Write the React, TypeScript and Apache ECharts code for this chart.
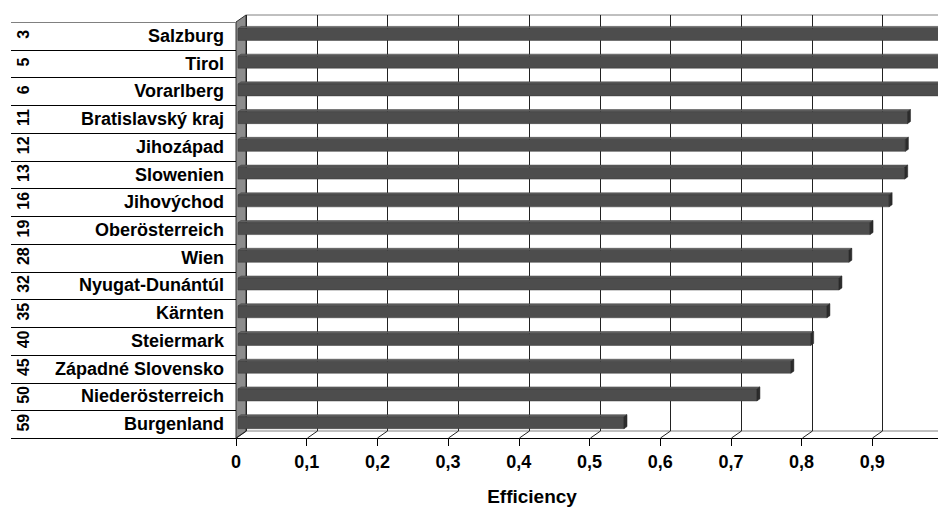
import React, { useEffect, useRef } from "react";
import * as echarts from "echarts";

const categories = [
  "Salzburg",
  "Tirol",
  "Vorarlberg",
  "Bratislavský kraj",
  "Jihozápad",
  "Slowenien",
  "Jihovýchod",
  "Oberösterreich",
  "Wien",
  "Nyugat-Dunántúl",
  "Kärnten",
  "Steiermark",
  "Západné Slovensko",
  "Niederösterreich",
  "Burgenland",
];
const ranks = [3, 5, 6, 11, 12, 13, 16, 19, 28, 32, 35, 40, 45, 50, 59];
const efficiency = [
  1, 1, 1, 0.947, 0.944, 0.943, 0.921, 0.894, 0.864, 0.85, 0.833, 0.81, 0.782,
  0.734, 0.546,
];
const tickValues = [0, 0.1, 0.2, 0.3, 0.4, 0.5, 0.6, 0.7, 0.8, 0.9, 1];
const axisTitle = "Efficiency";

const DX = 10;
const DY = -7;
const FONT = "'Liberation Sans', Arial, sans-serif";

export default function App() {
  const ref = useRef<HTMLDivElement>(null);
  useEffect(() => {
    if (!ref.current) return;
    const chart = echarts.init(ref.current, undefined, { renderer: "svg" });
    const n = categories.length;

    const option: any = {
      animation: false,
      backgroundColor: "#ffffff",
      textStyle: { fontFamily: FONT },
      grid: {
        left: 236,
        right: -5,
        top: 22,
        bottom: 69,
        containLabel: false,
        outerBoundsMode: "none",
      },
      xAxis: {
        type: "value",
        min: 0,
        max: 1,
        interval: 0.1,
        axisLine: { show: true, lineStyle: { color: "#000", width: 1 } },
        axisTick: { show: true, length: 8, lineStyle: { color: "#000", width: 1 } },
        splitLine: { show: false },
        axisLabel: {
          margin: 15,
          color: "#000",
          fontWeight: "bold",
          fontSize: 18,
          fontFamily: FONT,
          hideOverlap: false,
          showMaxLabel: true,
          formatter: (v: number) => String(Math.round(v * 10) / 10).replace(".", ","),
        },
      },
      yAxis: {
        type: "category",
        data: categories,
        inverse: true,
        axisLine: { show: false },
        axisTick: { show: false },
        splitLine: { show: false },
        axisLabel: {
          margin: 12,
          color: "#000",
          fontWeight: "bold",
          fontSize: 18,
          fontFamily: FONT,
          padding: [4, 0, 0, 0],
        },
      },
      graphic: [
        {
          type: "text",
          x: 532,
          y: 496,
          style: {
            text: axisTitle,
            fontSize: 19,
            fontWeight: "bold",
            fontFamily: FONT,
            fill: "#000",
            align: "center",
            verticalAlign: "middle",
          },
        },
      ],
      series: [
        {
          type: "custom",
          name: "frame",
          silent: true,
          z: 1,
          data: [[0, 0]],
          renderItem: (params: any, api: any) => {
            const cs = params.coordSys;
            const x0 = cs.x;
            const y0 = cs.y;
            const w = cs.width;
            const h = cs.height;
            const children: any[] = [];
            children.push({
              type: "polygon",
              shape: {
                points: [
                  [x0, y0],
                  [x0 + DX, y0 + DY],
                  [x0 + DX, y0 + h + DY],
                  [x0, y0 + h],
                ],
              },
              style: { fill: "#8c8c8c", stroke: "#333", lineWidth: 1 },
            });
            children.push({
              type: "line",
              shape: { x1: x0 + DX, y1: y0 + DY, x2: x0 + w + DX, y2: y0 + DY },
              style: { stroke: "#808080", lineWidth: 1 },
            });
            children.push({
              type: "line",
              shape: { x1: x0 + DX, y1: y0 + h + DY, x2: x0 + w + DX, y2: y0 + h + DY },
              style: { stroke: "#808080", lineWidth: 1 },
            });
            for (let i = 0; i <= n; i++) {
              const yy = Math.round(y0 + (i * h) / n) + 0.5;
              children.push({
                type: "line",
                shape: { x1: 11, y1: yy, x2: x0, y2: yy },
                style: { stroke: i === 0 ? "#808080" : "#000", lineWidth: 1.2 },
              });
            }
            return { type: "group", children };
          },
        },
        {
          type: "custom",
          name: "grid",
          silent: true,
          z: 2,
          data: tickValues.map((v) => [v, 0]),
          renderItem: (params: any, api: any) => {
            const cs = params.coordSys;
            const x = Math.round(api.coord([api.value(0), 0])[0]) + 0.5;
            const bottom = cs.y + cs.height;
            return {
              type: "group",
              children: [
                {
                  type: "line",
                  shape: { x1: x + DX, y1: cs.y + DY, x2: x + DX, y2: bottom + DY },
                  style: { stroke: "#222", lineWidth: 1 },
                },
                {
                  type: "line",
                  shape: { x1: x, y1: bottom, x2: x + DX, y2: bottom + DY },
                  style: { stroke: "#222", lineWidth: 1 },
                },
              ],
            };
          },
        },
        {
          type: "custom",
          name: "Efficiency",
          z: 3,
          data: efficiency.map((v, i) => [v, i]),
          renderItem: (params: any, api: any) => {
            const v = api.value(0);
            const i = api.value(1);
            const xs = api.coord([0, i])[0];
            const pe = api.coord([v, i]);
            const xe = pe[0];
            const yc = pe[1];
            const band = api.size([0, 1])[1];
            const half = band * 0.215;
            const f0 = 0.2;
            const f1 = 0.5;
            const ox0 = DX * f0;
            const oy0 = DY * f0;
            const ox1 = DX * f1;
            const oy1 = DY * f1;
            const yt0 = yc - half + oy0;
            const yb0 = yc + half + oy0;
            const yt1 = yc - half + oy1;
            const yb1 = yc + half + oy1;
            return {
              type: "group",
              children: [
                {
                  type: "polygon",
                  shape: {
                    points: [
                      [xs + ox0, yt0],
                      [xe + ox0, yt0],
                      [xe + ox1, yt1],
                      [xs + ox1, yt1],
                    ],
                  },
                  style: { fill: "#606060", stroke: "#3a3a3a", lineWidth: 0.5 },
                },
                {
                  type: "rect",
                  shape: { x: xs + ox0, y: yt0, width: xe - xs, height: yb0 - yt0 },
                  style: { fill: "#4d4d4d", stroke: "#3a3a3a", lineWidth: 0.5 },
                },
                {
                  type: "polygon",
                  shape: {
                    points: [
                      [xe + ox0, yt0],
                      [xe + ox1, yt1],
                      [xe + ox1, yb1],
                      [xe + ox0, yb0],
                    ],
                  },
                  style: { fill: "#2c2c2c", stroke: "#222", lineWidth: 0.5 },
                },
              ],
            };
          },
        },
        {
          type: "custom",
          name: "rank",
          silent: true,
          z: 4,
          data: ranks.map((r, i) => [0, i, r]),
          renderItem: (params: any, api: any) => {
            const i = api.value(1);
            const yc = api.coord([0, i])[1];
            return {
              type: "text",
              x: 23,
              y: yc - 1.5,
              rotation: Math.PI / 2,
              style: {
                text: String(api.value(2)),
                fontSize: 16,
                fontWeight: "bold",
                fontFamily: FONT,
                fill: "#000",
                align: "center",
                verticalAlign: "middle",
              },
            };
          },
        },
      ],
    };
    chart.setOption(option);
    return () => chart.dispose();
  }, []);
  return (
    <div
      ref={ref}
      style={{ position: "absolute", left: 0, top: 0, width: 938, height: 507 }}
    />
  );
}
